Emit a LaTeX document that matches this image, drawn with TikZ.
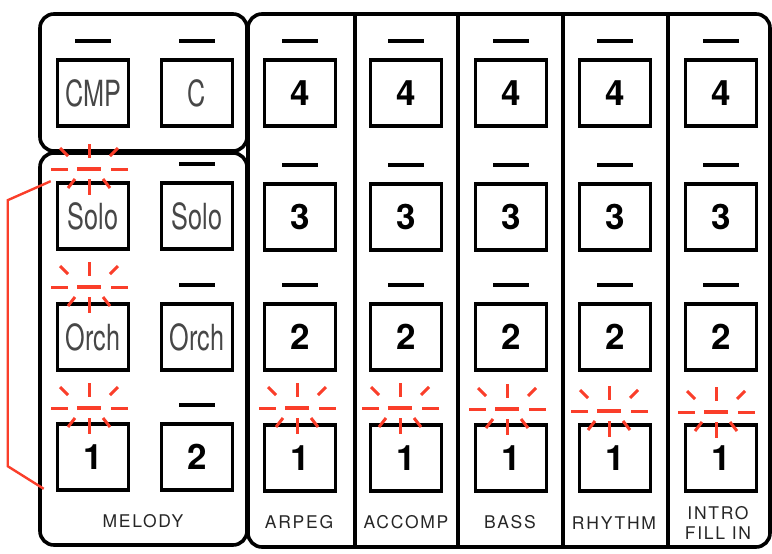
\documentclass[tikz,border=0pt]{standalone}
\usepackage{fontspec}
\setmainfont{TeX Gyre Heros}
\newfontfamily\condfont[FakeStretch=0.7]{TeX Gyre Heros}
\newfontfamily\labelfont[LetterSpace=10]{TeX Gyre Heros}
\usetikzlibrary{positioning}
\definecolor{flashred}{RGB}{250,62,42}

\begin{document}
\begin{tikzpicture}[
  x=1pt, y=-1pt,
  keybox/.style={draw, line width=3.6pt, fill=white, minimum width=71pt,
               minimum height=66pt, inner sep=0pt},
  numkey/.style={keybox, font=\fontsize{35}{35}\selectfont\bfseries},
  namekey/.style={keybox, text=black!72, font=\condfont\fontsize{36}{36}\selectfont},
  panel/.style={draw, line width=3.6pt, rounded corners=14pt},
  led/.style={line width=4.5pt},
  ray/.style={draw=flashred, line width=3pt},
  tag/.style={font=\labelfont\fontsize{17.5}{20}\selectfont, text=black!85, align=center}
]
  \useasboundingbox (0,0) rectangle (772,554);

  % panels
  \draw[panel] (248,14) rectangle (770,547);
  \draw[panel] (40,14) rectangle (247,151);
  \draw[panel] (40,153) rectangle (247,545);
  \foreach \x in {355,458,563,668}
    \draw[line width=3.2pt] (\x,14) -- (\x,547);

  % melody side
  \node[namekey] (cmp)   at (93,93)  {CMP};
  \node[namekey] (clr)   at (197,93) {C};
  \node[namekey] (solo1) at (93,216) {Solo};
  \node[namekey] (solo2) at (197,216) {Solo};
  \node[namekey] (orch1) at (93,337) {Orch};
  \node[namekey] (orch2) at (197,337) {Orch};
  \node[numkey]  (mel1)  at (93,457) {1};
  \node[numkey]  (mel2)  at (197,457) {2};
  \foreach \k in {cmp,clr,solo2,orch2,mel2}
    \draw[led] ([yshift=17pt]\k.north) ++(-18,0) -- ++(36,0);

  % part columns
  \foreach \col/\cx in {arp/300, acc/406, bass/511, rhy/615, intro/721} {
    \foreach \n/\cy in {4/93, 3/217, 2/337, 1/458}
      \node[numkey] (\col\n) at (\cx,\cy) {\n};
    \foreach \n in {2,3,4}
      \draw[led] ([yshift=17pt]\col\n.north) ++(-18,0) -- ++(36,0);
  }

  % flashing lamps
  \foreach \cx/\cy in {89/169, 89/287, 89/408, 297/408, 400/408,
                       507/409, 609/411, 716/412} {
    \draw[ray, line width=4.5pt] (\cx-12,\cy) -- (\cx+12,\cy);
    \draw[ray] (\cx-38,\cy) -- (\cx-21,\cy);
    \draw[ray] (\cx+22,\cy) -- (\cx+39,\cy);
    \draw[ray] (\cx,\cy-25) -- (\cx,\cy-11);
    \draw[ray] (\cx-29,\cy-21) -- (\cx-21,\cy-13);
    \draw[ray] (\cx+29,\cy-21) -- (\cx+21,\cy-13);
    \draw[ray] (\cx,\cy+10) -- (\cx,\cy+26);
    \draw[ray] (\cx-14,\cy+10) -- (\cx-21,\cy+19);
    \draw[ray] (\cx+14,\cy+10) -- (\cx+21,\cy+19);
  }

  % link between lit melody keys
  \draw[flashred, line width=2.4pt]
    ([xshift=-5pt]solo1.north west) -- ++(-43,19) -- ++(0,266)
    -- ([xshift=-12pt,yshift=3pt]mel1.south west);

  % column captions
  \node[tag] (meltag)   at (143,521) {MELODY};
  \node[tag] (arptag)   at (299,522) {ARPEG};
  \node[tag] (acctag)   at (406,522) {ACCOMP};
  \node[tag] (basstag)  at (510,522) {BASS};
  \node[tag] (rhytag)   at (614,523) {RHYTHM};
  \node[tag] (introtag) at (718,523) {INTRO\\FILL IN};
\end{tikzpicture}
\end{document}
